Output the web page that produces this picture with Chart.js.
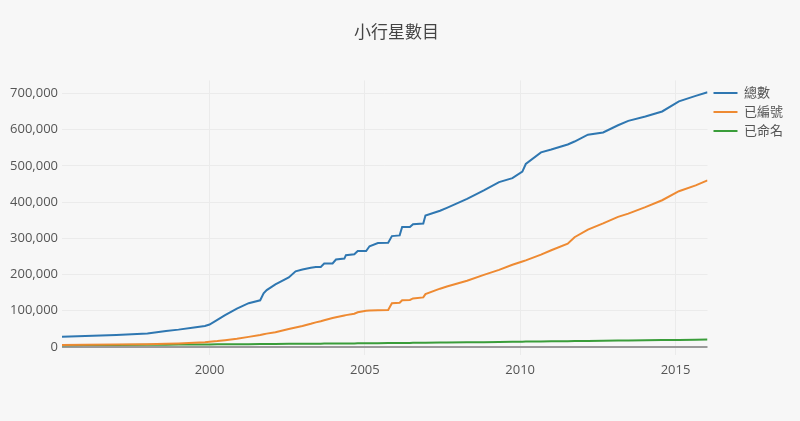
<!DOCTYPE html>
<html>
<head>
<meta charset="utf-8">
<script src="https://cdn.jsdelivr.net/npm/chart.js@4.4.1/dist/chart.umd.min.js"></script>
<style>
  html, body { margin: 0; padding: 0; background: #f7f7f7; }
  #wrap { width: 800px; height: 421px; }
</style>
</head>
<body>
<div id="wrap"><canvas id="chart"></canvas></div>
<script>
// decimal years (x) shared by every series
const years = [
  1995.25, 1996.0, 1997.0, 1998.0, 1998.6, 1999.0, 1999.5, 1999.85, 2000.0, 2000.25,
  2000.5, 2000.88, 2001.26, 2001.63, 2001.74, 2001.84, 2002.12, 2002.55, 2002.77, 2002.99,
  2003.26, 2003.42, 2003.58, 2003.69, 2003.96, 2004.07, 2004.34, 2004.39, 2004.66, 2004.77,
  2005.04, 2005.15, 2005.42, 2005.75, 2005.87, 2006.12, 2006.2, 2006.45, 2006.55, 2006.88,
  2006.95, 2007.42, 2007.64, 2008.29, 2008.83, 2009.32, 2009.75, 2010.07, 2010.18, 2010.67,
  2011.0, 2011.53, 2011.75, 2012.18, 2012.67, 2013.15, 2013.48, 2014.03, 2014.57, 2015.11,
  2015.65, 2016.03,
];

const total = [
  28500, 30500, 33500, 37500, 44000, 48000, 54000, 58000, 62000, 75000,
  88000, 106000, 121000, 129000, 148000, 157000, 173000, 192000, 209000, 214000,
  218500, 221000, 221000, 230500, 230500, 241500, 244000, 253500, 256000, 265000,
  265000, 278000, 287000, 288000, 306000, 308000, 331000, 331000, 339000, 341000,
  363000, 376000, 384000, 409000, 432000, 455000, 466000, 484000, 505000, 537000,
  545000, 559000, 567000, 586000, 592000, 612000, 624000, 636000, 650000, 678000,
  693000, 703000,
];

const numbered = [
  5800, 6300, 7000, 8000, 9000, 10000, 12000, 13500, 14500, 16500,
  19000, 23000, 28000, 33000, 35000, 37000, 41000, 50000, 54000, 58000,
  64000, 68000, 71000, 74000, 80000, 82000, 87000, 88000, 92000, 96000,
  100000, 100500, 101500, 102000, 121000, 122000, 129000, 130000, 134000, 137000,
  146000, 161000, 167000, 183000, 199000, 213000, 227000, 236000, 239000, 255000,
  267000, 285000, 303000, 324000, 341000, 359000, 368000, 386000, 405000, 430000,
  446000, 460000,
];

const named = [
  5200, 5500, 5800, 6200, 6500, 6700, 7000, 7200, 7300, 7500,
  7600, 7800, 8000, 8200, 8200, 8300, 8500, 8700, 8800, 8900,
  9100, 9200, 9300, 9400, 9600, 9700, 9900, 9900, 10000, 10100,
  10200, 10400, 10600, 10800, 10900, 11100, 11200, 11400, 11500, 11800,
  11900, 12300, 12500, 13000, 13500, 14000, 14500, 14800, 15000, 15400,
  15700, 16200, 16400, 16800, 17300, 17800, 18200, 18700, 19200, 19700,
  20200, 20600,
];

const seriesNames = ['總數', '已編號', '已命名'];
const seriesColors = ['#2f77b1', '#ee8a32', '#3a9d3a'];
const xTicks = [2000, 2005, 2010, 2015];

const FONT = "'Open Sans', 'Noto Sans CJK TC', sans-serif";
const TEXT = '#555';

function points(values) {
  return years.map((x, i) => ({ x, y: values[i] }));
}

const datasets = [total, numbered, named].map((values, i) => ({
  label: seriesNames[i],
  data: points(values),
  borderColor: seriesColors[i],
  backgroundColor: seriesColors[i],
  borderWidth: 2,
  pointRadius: 0,
  tension: 0,
}));

new Chart(document.getElementById('chart'), {
  type: 'line',
  data: { datasets },
  options: {
    responsive: true,
    maintainAspectRatio: false,
    animation: false,
    layout: { padding: { left: 0, right: 7, top: 0, bottom: 0 } },
    plugins: {
      title: {
        display: true,
        text: '小行星數目',
        color: '#444',
        font: { family: FONT, size: 17, weight: 'normal' },
        padding: { top: 23, bottom: 37 },
      },
      legend: {
        position: 'right',
        align: 'start',
        fullSize: false,
        labels: {
          boxWidth: 24,
          boxHeight: 2,
          padding: 6,
          color: TEXT,
          font: { family: FONT, size: 13 },
          // thin line sample, no border round the box
          generateLabels: (chart) =>
            Chart.defaults.plugins.legend.labels.generateLabels(chart).map((item) => ({ ...item, lineWidth: 0 })),
        },
      },
      tooltip: { enabled: false },
    },
    scales: {
      x: {
        type: 'linear',
        min: 1995.25,
        max: 2016.03,
        grid: { color: '#ebebeb', drawTicks: false },
        border: { display: false },
        ticks: {
          color: TEXT,
          padding: 7,
          font: { family: FONT, size: 13 },
          callback: (v) => String(v),
        },
        afterBuildTicks: (scale) => {
          scale.ticks = xTicks.map((value) => ({ value }));
        },
        afterFit: (scale) => {
          scale.height = 66;
          scale.paddingLeft = 0;
          scale.paddingRight = 92;
        },
      },
      y: {
        min: -22000,
        max: 735700,
        grid: {
          drawTicks: false,
          color: (ctx) => (ctx.tick && ctx.tick.value === 0 ? '#9a9a9a' : '#ebebeb'),
          lineWidth: (ctx) => (ctx.tick && ctx.tick.value === 0 ? 2 : 1),
        },
        border: { display: false },
        ticks: {
          color: TEXT,
          padding: 4,
          font: { family: FONT, size: 13 },
          callback: (v) => v.toLocaleString('en-US'),
        },
        afterBuildTicks: (scale) => {
          const ticks = [];
          for (let v = 0; v <= 700000; v += 100000) ticks.push({ value: v });
          scale.ticks = ticks;
        },
        afterFit: (scale) => {
          scale.width = 62;
        },
      },
    },
  },
});
</script>
</body>
</html>
